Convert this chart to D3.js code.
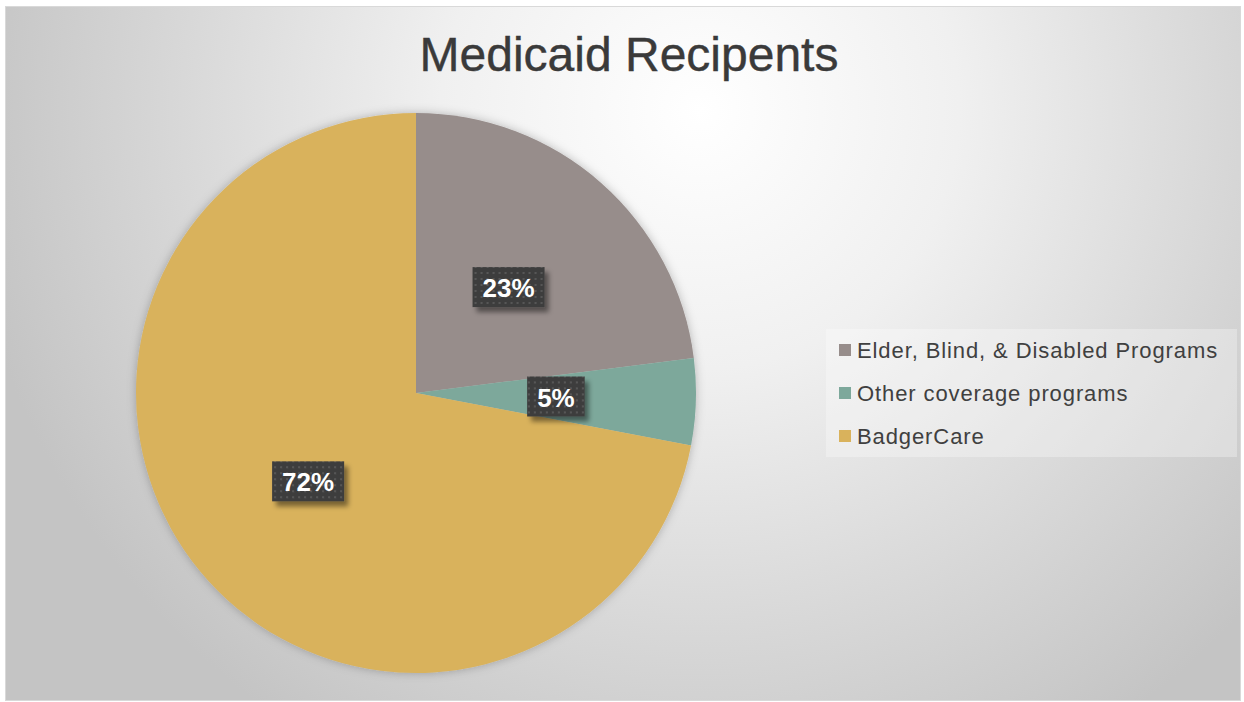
<!DOCTYPE html>
<html>
<head>
<meta charset="utf-8">
<script src="https://cdn.jsdelivr.net/npm/d3@7"></script>
<style>
  html, body { margin: 0; padding: 0; background: #fff; }
  svg { display: block; font-family: "Liberation Sans", Arial, sans-serif; }
</style>
</head>
<body>
<div class="chart-container"></div>
<script>
// data
const categories = ['Elder, Blind, & Disabled Programs', 'Other coverage programs', 'BadgerCare'];
const values = [23, 5, 72];
const title = 'Medicaid Recipents';

const W = 1244, H = 702;
const center = {x: 416, y: 393};
const radius = 280;

const color = d3.scaleOrdinal()
    .domain(categories)
    .range(['#978d8b', '#7da89b', '#d9b25c']);

const svg = d3.select('.chart-container')
    .append('svg')
    .attr('width', W)
    .attr('height', H);

const defs = svg.append('defs');

// background gradient
const bg = defs.append('radialGradient')
    .attr('id', 'bg')
    .attr('gradientUnits', 'userSpaceOnUse')
    .attr('cx', 700).attr('cy', 110).attr('r', 740);
bg.append('stop').attr('offset', 0).attr('stop-color', '#ffffff');
bg.append('stop').attr('offset', 0.35).attr('stop-color', '#f0f0f0');
bg.append('stop').attr('offset', 0.7).attr('stop-color', '#d8d8d8');
bg.append('stop').attr('offset', 1).attr('stop-color', '#c4c4c4');

// dotted label fill
const pat = defs.append('pattern')
    .attr('id', 'dots')
    .attr('patternUnits', 'userSpaceOnUse')
    .attr('width', 6).attr('height', 6);
pat.append('rect').attr('width', 6).attr('height', 6).attr('fill', '#3e3e3e');
pat.append('rect').attr('x', 2).attr('y', 2).attr('width', 2).attr('height', 2).attr('fill', '#575757');

const shadow = defs.append('filter').attr('id', 'shadow')
    .attr('x', '-30%').attr('y', '-30%').attr('width', '160%').attr('height', '160%');
shadow.append('feDropShadow')
    .attr('dx', 4).attr('dy', 5).attr('stdDeviation', 2.5)
    .attr('flood-color', '#000').attr('flood-opacity', 0.45);

const glow = defs.append('filter').attr('id', 'glow')
    .attr('x', '-10%').attr('y', '-10%').attr('width', '120%').attr('height', '120%');
glow.append('feDropShadow')
    .attr('dx', 0).attr('dy', 0).attr('stdDeviation', 5)
    .attr('flood-color', '#000').attr('flood-opacity', 0.25);

svg.append('rect')
    .attr('x', 5.5).attr('y', 6.5)
    .attr('width', 1235).attr('height', 694)
    .attr('fill', 'url(#bg)')
    .attr('stroke', '#d9d9d9');

svg.append('text')
    .attr('x', 629).attr('y', 71)
    .attr('text-anchor', 'middle')
    .attr('font-size', 48)
    .attr('fill', '#3a3a3a')
    .attr('stroke', '#3a3a3a')
    .attr('stroke-width', 0.4)
    .text(title);

// -- pie
const pie = d3.pie().sort(null).value(d => d.value);
const arc = d3.arc().innerRadius(0).outerRadius(radius);
const arcs = pie(categories.map((c, i) => ({name: c, value: values[i]})));

const chart = svg.append('g')
    .attr('transform', 'translate(' + center.x + ',' + center.y + ')');

chart.append('g')
    .attr('filter', 'url(#glow)')
    .selectAll('path')
    .data(arcs).enter()
    .append('path')
    .attr('d', arc)
    .attr('fill', d => color(d.data.name));

// -- labels
const lab = chart.append('g')
    .selectAll('g')
    .data(arcs).enter()
    .append('g')
    .attr('transform', d => 'translate(' + arc.centroid(d) + ')');

lab.append('text')
    .attr('class', 'lbl')
    .attr('text-anchor', 'middle')
    .attr('dy', '0.35em')
    .attr('font-size', 26)
    .attr('font-weight', 'bold')
    .attr('fill', '#fff')
    .text(d => d3.format('.0%')(d.data.value / d3.sum(values)));

lab.each(function () {
    const g = d3.select(this);
    const bb = g.select('text').node().getBBox();
    g.insert('rect', 'text')
        .attr('x', bb.x - 10).attr('y', bb.y - 6)
        .attr('width', bb.width + 20).attr('height', bb.height + 10)
        .attr('fill', 'url(#dots)')
        .attr('filter', 'url(#shadow)');
});

// -- legend
const legend = svg.append('g').attr('transform', 'translate(826,329)');
legend.append('rect')
    .attr('width', 411).attr('height', 128)
    .attr('fill', '#ffffff').attr('fill-opacity', 0.3);

const item = legend.selectAll('.item')
    .data(categories).enter()
    .append('g')
    .attr('class', 'item')
    .attr('transform', (d, i) => 'translate(13,' + (21 + i * 43) + ')');

item.append('rect')
    .attr('x', 0).attr('y', -6)
    .attr('width', 12).attr('height', 12)
    .attr('fill', d => color(d));

item.append('text')
    .attr('x', 18).attr('dy', '0.35em')
    .attr('font-size', 22)
    .attr('letter-spacing', 0.9)
    .attr('fill', '#404040')
    .text(d => d);
</script>
</body>
</html>
